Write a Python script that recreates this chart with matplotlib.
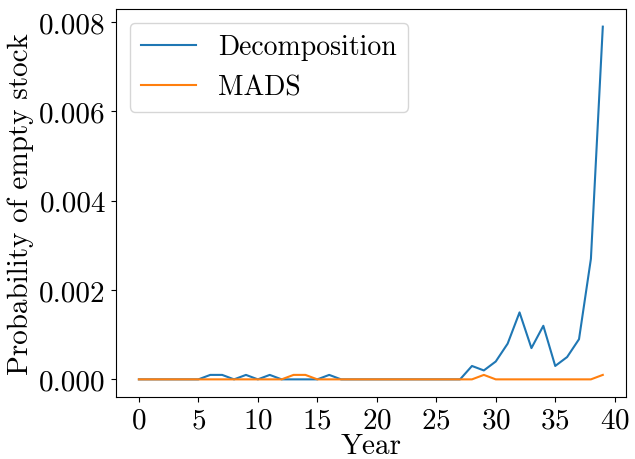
import matplotlib
matplotlib.use("Agg")
import matplotlib.pyplot as plt

plt.rcParams['font.family'] = 'serif'
plt.rcParams['font.serif'] = ['cmr10']
plt.rcParams['mathtext.fontset'] = 'cm'
plt.rcParams['axes.formatter.use_mathtext'] = True
plt.rcParams['font.size'] = 21

# Years 0..39
years = list(range(40))

# Probability of empty stock
decomposition = [0, 0, 0, 0, 0, 0, 0.0001, 0.0001, 0, 0.0001,
                 0, 0.0001, 0, 0, 0, 0, 0.0001, 0, 0, 0,
                 0, 0, 0, 0, 0, 0, 0, 0, 0.0003, 0.0002,
                 0.0004, 0.0008, 0.0015, 0.0007, 0.0012, 0.0003, 0.0005, 0.0009, 0.0027, 0.0079]
mads = [0, 0, 0, 0, 0, 0, 0, 0, 0, 0,
        0, 0, 0, 0.0001, 0.0001, 0, 0, 0, 0, 0,
        0, 0, 0, 0, 0, 0, 0, 0, 0, 0.0001,
        0, 0, 0, 0, 0, 0, 0, 0, 0, 0.0001]

fig = plt.figure(figsize=(6.35, 4.6), dpi=100)
ax = fig.add_axes([115.7 / 635, 1 - 398 / 460, 510.3 / 635, 388 / 460])
ax.plot(years, decomposition, label='Decomposition')
ax.plot(years, mads, label='MADS')
ax.set_xlabel('Year', labelpad=0)
ax.set_ylabel('Probability of empty stock')
ax.set_xticks(range(0, 41, 5))
ax.set_yticks([0, 0.002, 0.004, 0.006, 0.008])
ax.set_yticklabels(['0.000', '0.002', '0.004', '0.006', '0.008'])
ax.legend(loc='upper left', fontsize=20)

fig.savefig('out.png', dpi=100)
